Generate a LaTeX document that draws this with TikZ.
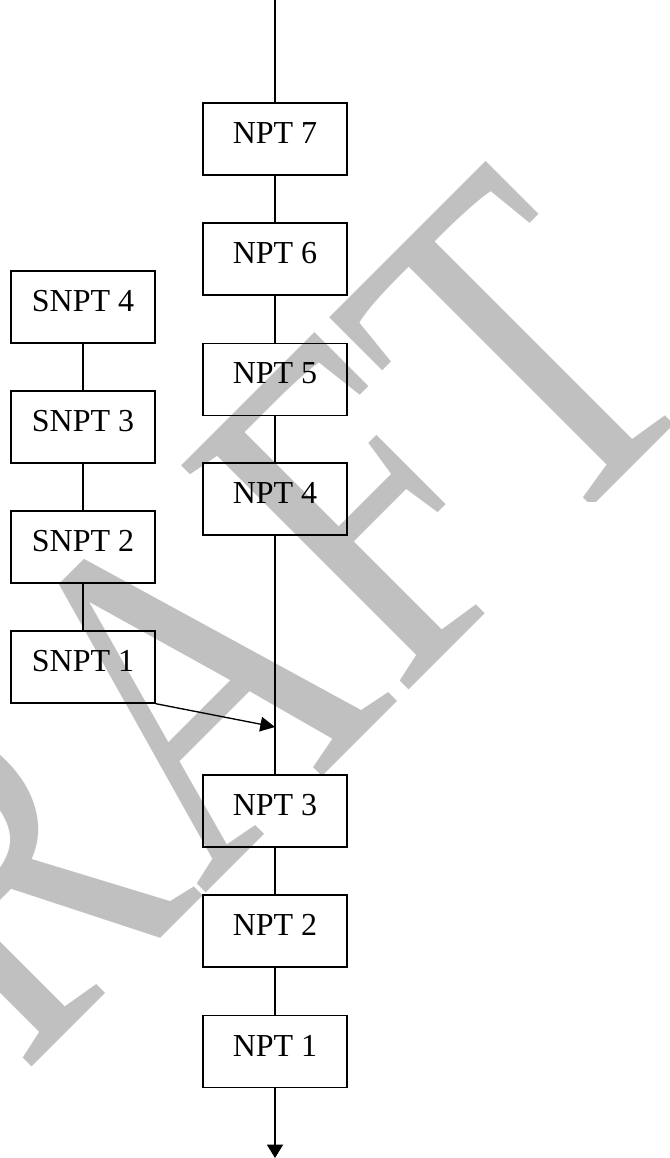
\documentclass[tikz,border=0pt]{standalone}
\usepackage{fontspec}
\setmainfont{Liberation Serif}
\usetikzlibrary{arrows.meta}
\pgfdeclarelayer{background}
\pgfsetlayers{background,main}
\definecolor{wmgray}{HTML}{C0C0C0}

\begin{document}
\begin{tikzpicture}[x=0.75pt,y=-0.75pt,line width=1pt,
  pt/.style={draw,minimum width=108pt,minimum height=54pt,inner sep=0pt,text depth=9pt,font=\fontsize{24}{28}\selectfont},
  tip/.style={-{Triangle[length=10pt,width=12pt]}},
  sidetip/.style={-{Triangle[length=11pt,width=11pt]}}]
  \useasboundingbox (0,0) rectangle (669,1158);
  % main column
  \node[pt] (n7) at (275,139) {NPT 7};
  \node[pt] (n6) at (275,259) {NPT 6};
  \node[pt] (n5) at (275,379.5) {NPT 5};
  \node[pt] (n4) at (275,499) {NPT 4};
  \node[pt] (n3) at (275,811) {NPT 3};
  \node[pt] (n2) at (275,931) {NPT 2};
  \node[pt] (n1) at (275,1051.5) {NPT 1};
  % side column
  \node[pt] (s4) at (83,307) {SNPT 4};
  \node[pt] (s3) at (83,427) {SNPT 3};
  \node[pt] (s2) at (83,547) {SNPT 2};
  \node[pt] (s1) at (83,667) {SNPT 1};
  \coordinate (in) at (275,0);
  \coordinate (out) at (275,1158);
  \coordinate (join) at (275,727);
  \path[draw]
    (in) edge (n7)
    (n7) edge (n6)
    (n6) edge (n5)
    (n5) edge (n4)
    (n4) edge (n3)
    (n3) edge (n2)
    (n2) edge (n1)
    (s4) edge (s3)
    (s3) edge (s2)
    (s2) edge (s1);
  \path[tip] (n1) edge (out);
  \path[sidetip] (s1.south east) edge (join);
  % watermark
  \begin{pgfonlayer}{background}
    \begin{scope}
      \clip (0,0) -- (669,0) -- (669,501) -- (484,501) -- (484,1072) -- (0,1072) -- cycle;
      \node[text=wmgray,rotate=45,yscale=1.27,inner sep=0pt,font=\fontsize{288}{288}\selectfont] (wm) at (158,714) {DRAFT};
    \end{scope}
  \end{pgfonlayer}
\end{tikzpicture}
\end{document}
